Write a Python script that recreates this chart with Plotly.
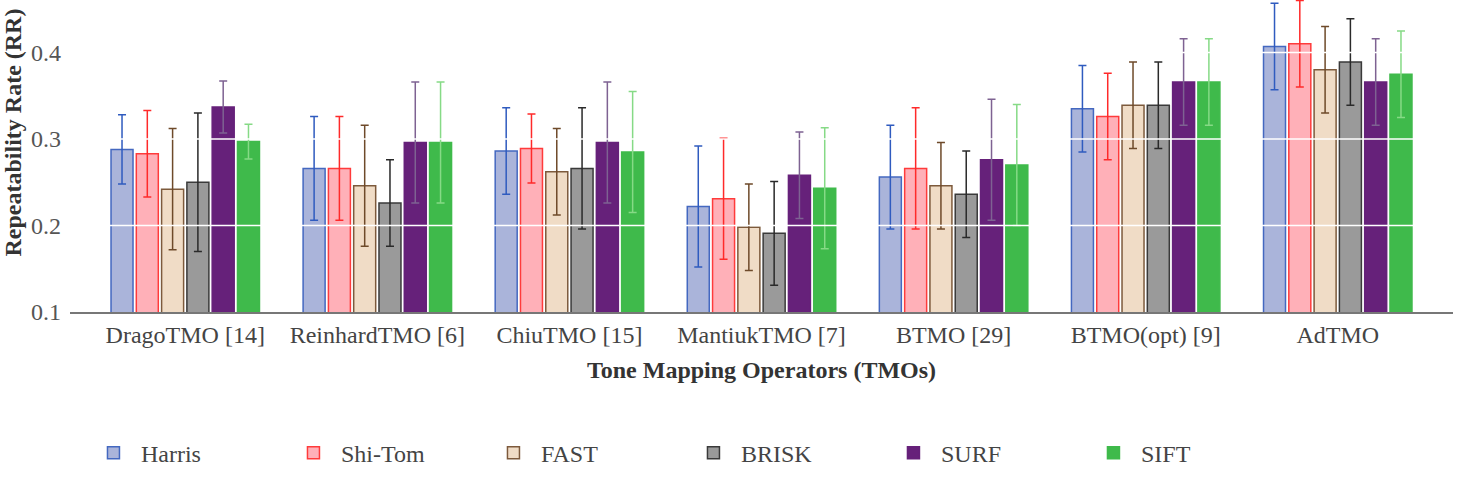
import plotly.graph_objects as go

categories = ["DragoTMO [14]", "ReinhardTMO [6]", "ChiuTMO [15]", "MantiukTMO [7]",
              "BTMO [29]", "BTMO(opt) [9]", "AdTMO"]

harris = [0.288, 0.266, 0.286, 0.222, 0.256, 0.335, 0.407]
harris_err = [0.04, 0.06, 0.05, 0.07, 0.06, 0.05, 0.05]
shitom = [0.283, 0.266, 0.289, 0.231, 0.266, 0.326, 0.410]
shitom_err = [0.05, 0.06, 0.04, 0.07, 0.07, 0.05, 0.05]
fast = [0.242, 0.246, 0.262, 0.198, 0.246, 0.339, 0.380]
fast_err = [0.07, 0.07, 0.05, 0.05, 0.05, 0.05, 0.05]
brisk = [0.250, 0.226, 0.266, 0.191, 0.236, 0.339, 0.389]
brisk_err = [0.08, 0.05, 0.07, 0.06, 0.05, 0.05, 0.05]
surf = [0.337, 0.296, 0.296, 0.258, 0.276, 0.366, 0.366]
surf_err = [0.03, 0.07, 0.07, 0.05, 0.07, 0.05, 0.05]
sift = [0.297, 0.296, 0.285, 0.243, 0.270, 0.366, 0.375]
sift_err = [0.02, 0.07, 0.07, 0.07, 0.07, 0.05, 0.05]

series_names = ["Harris", "Shi-Tom", "FAST", "BRISK", "SURF", "SIFT"]
series_values = [harris, shitom, fast, brisk, surf, sift]
series_errors = [harris_err, shitom_err, fast_err, brisk_err, surf_err, sift_err]
fill_colors = ["#aab4da", "#ffb0b8", "#f0dcc6", "#9a9a9a", "#66217a", "#3fba4b"]
line_colors = ["#4468c0", "#ff3b3b", "#7d5a3c", "#3a3a3a", "#66217a", "#3fba4b"]
err_colors = ["#2f5bbf", "#ff2a2a", "#6e4a2a", "#2a2a2a", "#7e6292", "#86da86"]

yticks = [0.1, 0.2, 0.3, 0.4]
grid_lines = [0.2, 0.3, 0.4]

FONT = "Liberation Serif"

fig = go.Figure()
for name, vals, errs, fc, lc, ec in zip(series_names, series_values, series_errors,
                                        fill_colors, line_colors, err_colors):
    fig.add_trace(go.Bar(
        name=name, x=categories, y=vals,
        marker=dict(color=fc, line=dict(color=lc, width=1.5)),
        error_y=dict(type="data", array=errs, visible=True, color=ec,
                     thickness=1.5, width=4),
    ))

for g in grid_lines:
    fig.add_shape(type="line", xref="paper", yref="y", x0=0, x1=1, y0=g, y1=g,
                  line=dict(color="white", width=1.5), layer="above")

fig.add_annotation(
    text="<b>Repeatability Rate (RR)</b>", textangle=-90,
    xref="paper", yref="paper", x=-0.0415, y=0.574, xanchor="center", yanchor="middle",
    showarrow=False, font=dict(family=FONT, size=24, color="#333333"),
)

fig.update_layout(
    width=1457, height=477,
    margin=dict(l=70, r=4, t=0, b=165),
    paper_bgcolor="white", plot_bgcolor="white",
    barmode="group", bargap=0.21, bargroupgap=0.13,
    font=dict(family=FONT, size=24, color="#444444"),
    showlegend=True,
    legend=dict(orientation="h", xref="container", yref="container",
                x=0.059, y=0.05, xanchor="left", yanchor="middle",
                font=dict(family=FONT, size=24, color="#444444"),
                itemwidth=45, entrywidth=140, traceorder="normal"),
    xaxis=dict(
        range=[-0.6, 6.6], showline=True, linecolor="#777777", linewidth=2,
        ticks="", showgrid=False,
        tickfont=dict(family=FONT, size=24, color="#444444"),
        title=dict(text="<b>Tone Mapping Operators (TMOs)</b>", standoff=14,
                   font=dict(family=FONT, size=24, color="#333333")),
    ),
    yaxis=dict(
        range=[0.1, 0.4607], tickvals=yticks, ticktext=[f"{t:.1f}" for t in yticks],
        showgrid=False, zeroline=False, showline=False, ticks="",
        ticklabelstandoff=8,
        tickfont=dict(family=FONT, size=24, color="#555555"),
    ),
)

fig.write_html("out.html")
